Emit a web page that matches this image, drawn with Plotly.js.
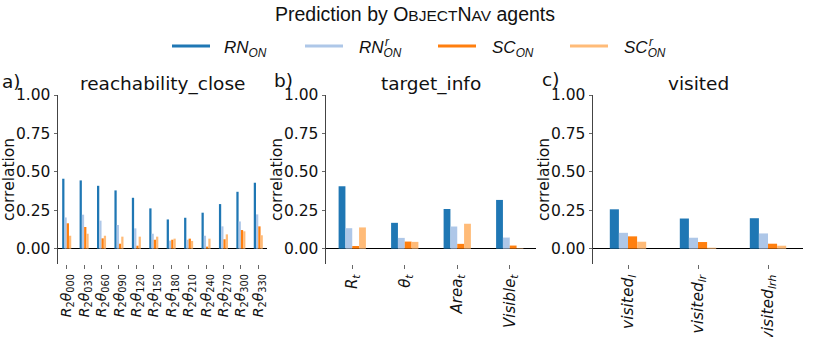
<!DOCTYPE html>
<html>
<head>
<meta charset="utf-8">
<script src="https://cdn.plot.ly/plotly-3.0.1.min.js"></script>
<style>
  html, body { margin: 0; padding: 0; background: #fff; }
  #plot { width: 831px; height: 337px; }
</style>
</head>
<body>
<div id="plot"></div>
<script>
// series names + colours (tab20 pairs)
var seriesNames = ["RN_ON", "RN^r_ON", "SC_ON", "SC^r_ON"];
var seriesColors = ["#1f77b4", "#aec7e8", "#ff7f0e", "#ffbb78"];

// a) reachability_close
var reachCats = ["000", "030", "060", "090", "120", "150", "180", "210", "240", "270", "300", "330"];
var reachRN  = [0.455, 0.444, 0.409, 0.379, 0.331, 0.262, 0.190, 0.201, 0.234, 0.290, 0.370, 0.429];
var reachRNr = [0.203, 0.221, 0.182, 0.154, 0.132, 0.097, 0.052, 0.058, 0.084, 0.145, 0.177, 0.223];
var reachSC  = [0.165, 0.141, 0.067, 0.032, 0.019, 0.058, 0.058, 0.065, 0.013, 0.061, 0.121, 0.145];
var reachSCr = [0.084, 0.097, 0.084, 0.078, 0.078, 0.078, 0.065, 0.050, 0.065, 0.093, 0.113, 0.087];
var reachLabels = reachCats.map(function (c) {
  return "<i>R</i><sub>2</sub><i>θ</i><sub>" + c + "</sub>";
});

// b) target_info
var targetCats = ["R", "theta", "Area", "Visible"];
var targetRN  = [0.406, 0.168, 0.258, 0.317];
var targetRNr = [0.133, 0.070, 0.144, 0.072];
var targetSC  = [0.017, 0.046, 0.031, 0.020];
var targetSCr = [0.138, 0.044, 0.162, 0.003];
var targetLabels = ["<i>R<sub>t</sub></i>", "<i>θ<sub>t</sub></i>", "<i>Area<sub>t</sub></i>", "<i>Visible<sub>t</sub></i>"];

// c) visited
var visitedCats = ["l", "lr", "lrh"];
var visitedRN  = [0.256, 0.196, 0.198];
var visitedRNr = [0.103, 0.071, 0.099];
var visitedSC  = [0.080, 0.043, 0.032];
var visitedSCr = [0.045, 0.006, 0.019];
var visitedLabels = ["<i>visited<sub>l</sub></i>", "<i>visited<sub>lr</sub></i>", "<i>visited<sub>lrh</sub></i>"];

var yTicks = [0, 0.25, 0.5, 0.75, 1.0];

var panels = [
  { cats: reachCats, labels: reachLabels, vals: [reachRN, reachRNr, reachSC, reachSCr], xa: "x", ya: "y" },
  { cats: targetCats, labels: targetLabels, vals: [targetRN, targetRNr, targetSC, targetSCr], xa: "x2", ya: "y2" },
  { cats: visitedCats, labels: visitedLabels, vals: [visitedRN, visitedRNr, visitedSC, visitedSCr], xa: "x3", ya: "y3" }
];

var data = [];
panels.forEach(function (p) {
  p.vals.forEach(function (v, i) {
    data.push({
      type: "bar",
      x: p.cats,
      y: v,
      name: seriesNames[i],
      marker: { color: seriesColors[i], line: { width: 0 } },
      xaxis: p.xa,
      yaxis: p.ya,
      showlegend: false,
      hoverinfo: "y"
    });
  });
});

var W = 831, H = 337;
function px(x) { return x / W; }
function py(y) { return (H - y) / H; }

var tickFont = { family: "DejaVu Sans", size: 15.5, color: "#111" };

function xAxis(domain, cats, labels, fsize) {
  return {
    domain: domain,
    type: "category",
    categoryorder: "array",
    categoryarray: cats,
    tickvals: cats,
    ticktext: labels,
    tickangle: -90,
    ticks: "outside",
    ticklen: 3.5,
    tickwidth: 0.8,
    tickcolor: "#444",
    showline: false,
    showgrid: false,
    zeroline: false,
    tickfont: { family: "DejaVu Sans", size: fsize, color: "#111" },
    fixedrange: true
  };
}
function yAxis(anchor) {
  return {
    domain: [py(264), py(95)],
    anchor: anchor,
    range: [-0.1, 1.0],
    tickvals: yTicks,
    ticktext: yTicks.map(function (t) { return t.toFixed(2); }),
    ticks: "outside",
    ticklen: 3.5,
    tickwidth: 0.8,
    tickcolor: "#444",
    showline: true,
    linecolor: "#444",
    linewidth: 1,
    showgrid: false,
    zeroline: true,
    zerolinecolor: "#000",
    zerolinewidth: 1,
    tickfont: tickFont,
    fixedrange: true
  };
}

var layout = {
  width: W,
  height: H,
  margin: { l: 0, r: 0, t: 0, b: 0 },
  paper_bgcolor: "#fff",
  plot_bgcolor: "#fff",
  barmode: "group",
  bargap: 0.48,
  bargroupgap: 0,
  font: { family: "DejaVu Sans", color: "#111" },
  xaxis: xAxis([px(58), px(267)], reachCats, reachLabels, 14),
  yaxis: yAxis("x"),
  xaxis2: xAxis([px(326), px(536)], targetCats, targetLabels, 15),
  yaxis2: yAxis("x2"),
  xaxis3: xAxis([px(593), px(803)], visitedCats, visitedLabels, 15.5),
  yaxis3: yAxis("x3"),
  shapes: [],
  annotations: []
};
layout.xaxis.anchor = "y";
layout.xaxis2.anchor = "y2";
layout.xaxis3.anchor = "y3";

function note(text, x, y, opts) {
  var a = {
    text: text, x: px(x), y: py(y), xref: "paper", yref: "paper",
    showarrow: false, xanchor: "center", yanchor: "middle",
    font: { family: "DejaVu Sans", size: 18.5, color: "#111" }
  };
  for (var k in opts) a[k] = opts[k];
  layout.annotations.push(a);
}

// super title with small caps
note('Prediction by O<span style="font-size:15.5px">BJECT</span>N<span style="font-size:15.5px">AV</span> agents', 415, 14,
  { font: { family: "Liberation Sans", size: 19.5, color: "#111" } });

// panel titles and letters
note("reachability_close", 162.5, 84);
note("target_info", 431, 84);
note("visited", 698, 84);
note("a)", 0, 82, { xanchor: "left" });
note("b)", 272, 80, { xanchor: "left" });
note("c)", 540, 79, { xanchor: "left" });

// y axis labels
[9, 277, 544].forEach(function (x) {
  note("correlation", x, 180, { textangle: -90, font: { family: "DejaVu Sans", size: 15.5, color: "#111" } });
});

// legend drawn by hand: line samples and math-style labels
var legLineX = [172, 305, 438, 570];
var legTextX = [222, 357, 490, 622];
var legTexts = ["<i>RN</i><sub><i>ON</i></sub>", "<i>RN</i><sub><i>ON</i></sub>", "<i>SC</i><sub><i>ON</i></sub>", "<i>SC</i><sub><i>ON</i></sub>"];
legLineX.forEach(function (x, i) {
  layout.shapes.push({
    type: "line", xref: "paper", yref: "paper",
    x0: px(x), x1: px(x + 38), y0: py(46), y1: py(46),
    line: { color: seriesColors[i], width: 3 }
  });
  note(legTexts[i], legTextX[i], 49, {
    xanchor: "left",
    font: { family: "Liberation Sans", size: 17, color: "#111" }
  });
});
// superscript r above the subscript on the shuffled series (entries 2 and 4)
[383, 647].forEach(function (x) {
  note("<i>r</i>", x, 42, {
    xanchor: "left",
    font: { family: "Liberation Sans", size: 12, color: "#111" }
  });
});

Plotly.newPlot("plot", data, layout, { displayModeBar: false, staticPlot: true });
</script>
</body>
</html>
